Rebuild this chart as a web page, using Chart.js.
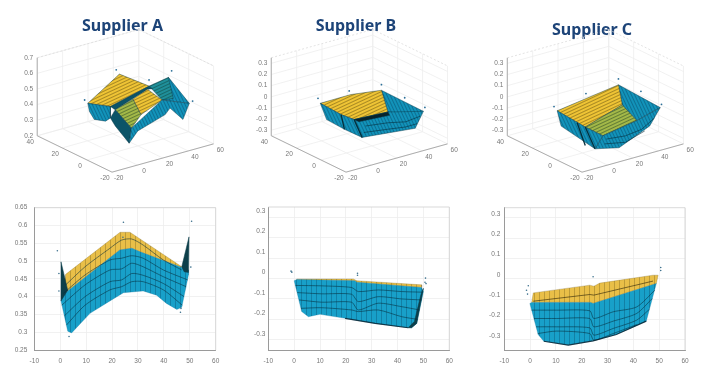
<!DOCTYPE html>
<html><head><meta charset="utf-8">
<style>
html,body{margin:0;padding:0;background:#fff;width:710px;height:377px;overflow:hidden}
canvas{position:absolute;filter:blur(0.6px)}
</style>
<script src="https://cdn.jsdelivr.net/npm/chart.js@4"></script>
</head><body>
<canvas id="a3" style="left:0;top:0" width="245" height="195"></canvas>
<canvas id="b3" style="left:236px;top:0" width="240" height="195"></canvas>
<canvas id="c3" style="left:474px;top:0" width="236" height="195"></canvas>
<canvas id="a2" style="left:0;top:195px" width="240" height="182"></canvas>
<canvas id="b2" style="left:236px;top:195px" width="240" height="182"></canvas>
<canvas id="c2" style="left:474px;top:195px" width="236" height="182"></canvas>
<script>
// ---------- tick values ----------
const xTicks3d=[-20,0,20,40,60];
const yTicks3d=[-20,0,20,40];
const zTicksA=[0.2,0.3,0.4,0.5,0.6,0.7];
const zTicksBC=[-0.3,-0.2,-0.1,0,0.1,0.2,0.3];
const xTicks2d=[-10,0,10,20,30,40,50,60];
const yTicksA=[0.25,0.3,0.35,0.4,0.45,0.5,0.55,0.6,0.65];
const yTicksBC=[-0.3,-0.2,-0.1,0,0.1,0.2,0.3];

// ---------- Supplier A, 3D surface facets ----------
const xA=[0.2,25.1,38.7,8.2,2.2,27.6,31.4,39,5.1,3.3,44.1,50.7,45.7,35.5,31.7,10.1,2.2,8.2,4.4,5.3,1.5,47.9,16.2,12.7];
const yA=[20,20,10,10,0,0,0,0,-10,-10,0,-10,-10,-10,-10,-10,0,10,10,20,20,0,0,-10];
const zA=[.44,.571,.502,.44,.472,.546,.541,.451,.386,.294,.585,.442,.35,.446,.413,.357,.368,.367,.355,.325,.385,.441,.509,.456];
const facesA=[[10,11,7],[2,10,21,7],[0,1,2,3],[3,2,6,5,4],[4,22,23,8],[22,5,7,23],[0,3,17,18,19,20],[4,8,9,16,17],[8,7,11,12,13,14,15,9]];
const shadesA=['B','T','Y','D','G','Y','B','D','B'];
const dotsAx=[-2.3,22.6,46.6,28.8,53.3], dotsAy=[20,20,0,0,-10], dotsAz=[.467,.604,.621,.603,.451];

// ---------- Supplier B, 3D surface facets ----------
const xB=[-1,23.1,47.2,50.8,32.7,6,10.4,2.5,44.4,4,8.2,5.6,41.9,34,9.8,5.1,22.8,36.8,48.2,3.8,22.8,36.8,45.7];
const yB=[20,20,20,-10,0,0,20,-10,-10,20,10,10,-10,0,0,-10,-10,-10,-10,-10,-10,-10,-10];
const zB=[-.01,-.008,-.046,-.083,-.086,-.069,-.134,-.164,-.215,-.172,-.218,-.078,-.079,-.12,-.101,-.07,-.097,-.133,-.119,-.124,-.155,-.179,-.178];
const facesB=[[2,3,12,4],[0,1,2,4,5,11],[5,4,3,8,7],[5,4,13,14],[0,11,5,7,10,9],[11,10],[5,7],[15,16,17,18],[19,20,21,22]];
const shadesB=['B','Y','B','S','B','K','K','L','L'];
const dotsBx=[-2.8,21.8,47.2,45.9,52], dotsBy=[20,20,20,0,-10], dotsBz=[.04,.029,.004,0,-.052];

// ---------- Supplier C, 3D surface facets ----------
const xC=[-.3,48,51.5,2.2,31.4,42.8,6.3,0,19,43.2,2.8,8.2,2.2,5.6,8.9,24.1,36.8,47,7.6,24.1,39.3];
const yC=[20,20,-10,0,0,0,-10,-10,-10,-10,20,10,0,10,-10,-10,-10,-10,-10,-10,-10];
const zC=[-.079,.001,-.051,-.124,-.018,-.195,-.161,-.258,-.309,-.19,-.226,-.305,-.29,-.151,-.199,-.218,-.2,-.13,-.238,-.276,-.222];
const facesC=[[1,2,5,4],[0,1,4,3],[3,4,5,6],[6,5,2,9,8,7],[0,3,6,7,11,10],[13,12],[3,7],[14,15,16,17],[18,19,20]];
const shadesC=['B','Y','G','B','B','K','K','L','L'];
const dotsCx=[-2.8,22.4,48,46.1,52.5], dotsCy=[20,20,20,0,-10], dotsCz=[-.033,.004,.054,.058,-.025];

// ---------- Supplier A, front view ----------
const yellowTopAx=[2.1,23.1,26.9,46.9], yellowTopAz=[.4626,.581,.581,.484];
const blueTopAx=[1.2,23,27.6,30.8,49.5], blueTopAz=[.406,.531,.536,.526,.475];
const blueBotAx=[.3,2.9,4.4,11.5,19.2,24.4,32,37.2,41,45,46.9,49.5], blueBotAz=[.388,.303,.298,.353,.388,.411,.416,.404,.381,.364,.37,.461];
const spikeLAx=[.3,2.9,.3], spikeLAz=[.498,.418,.388];
const spikeRAx=[49.7,46.9,47.8,49.5], spikeRAz=[.568,.484,.47,.468];
const contourAxs=[[2.1,9.6,19.2,23.7,27.6,32,39.8,46.9],[1.2,9.6,19.2,23.7,27.6,32,39.8,49.2],[.6,9.6,19.2,23.7,27.6,32,39.8,48.6],[1.6,9.6,19.2,23.7,27.6,32,39.8,47.8],[2.4,9.6,19.2,23.7,27.6,32,39.8,47.1]];
const contoursA=[[.433,.484,.536,.559,.562,.545,.503,.475],[.409,.461,.503,.508,.515,.508,.475,.447],[.376,.433,.475,.478,.494,.484,.456,.428],[.346,.4,.442,.447,.465,.46,.437,.4],[.32,.376,.419,.428,.442,.442,.419,.376]];
const dotsFAx=[-1.1,-.5,-.5,3.4,24.4,24.2,50.7,50.4,46.6,46.4], dotsFAz=[.529,.465,.416,.288,.609,.567,.612,.483,.367,.356];

// ---------- Supplier B, front view ----------
const yellowTopBx=[1,22.9,24.2,49.3], yellowTopBz=[-.002,-.002,-.011,-.031];
const blueTopBx=[1,23.5,24.2,49.3], blueTopBz=[-.005,-.011,-.018,-.044];
const blueBotBx=[0,2.9,5.5,10,19.7,31.3,44.1,45.4,47.4,50], blueBotBz=[-.011,-.162,-.187,-.175,-.195,-.22,-.241,-.241,-.22,-.064];
const edgeBx=[50,47.4,45.4,44.1,46.5,49], edgeBz=[-.048,-.22,-.241,-.241,-.21,-.08];
const bottomEdgeBx=[19.7,31.3,44.1], bottomEdgeBz=[-.195,-.22,-.241];
const contourBxs=[[.5,10.6,22.2,24.8,32.5,41.6,49.8],[1.2,10.6,22.2,24.8,32.5,41.6,49.3],[1.9,10.6,22.2,24.8,32.5,41.6,48.5],[2.7,10.6,22.2,24.8,32.5,41.6,47.7]];
const contoursB=[[-.034,-.036,-.044,-.064,-.056,-.064,-.067],[-.069,-.075,-.077,-.113,-.089,-.1,-.105],[-.105,-.116,-.116,-.154,-.121,-.138,-.154],[-.146,-.143,-.154,-.162,-.154,-.187,-.2]];
const dotsFBx=[-1.2,-.9,24.5,24.5,50.8,50.6,51], dotsFBz=[.036,.031,.026,.016,.002,-.018,-.025];

// ---------- Supplier C, front view ----------
const yellowTopCx=[1.2,23.1,24.7,27,47.6,49.6], yellowTopCz=[-.069,-.031,-.036,-.021,.018,.018];
const blueTopCx=[.6,23.4,24.4,48.9], blueTopCz=[-.116,-.116,-.121,-.023];
const blueBotCx=[-.1,3.1,5.3,14.8,24.4,33.4,45,48.9], blueBotCz=[-.121,-.274,-.307,-.326,-.305,-.274,-.208,-.023];
const bottomEdgeCx=[5.3,14.8,24.4,33.4,45], bottomEdgeCz=[-.307,-.326,-.305,-.274,-.208];
const contourCxs=[[.6,10.2,23.1,24.7,32.2,41.3,48.3],[1.5,10.2,23.1,24.7,32.2,41.3,47.3],[2.3,10.2,23.1,24.7,32.2,41.3,46.2],[3,10.2,23.1,24.7,32.2,41.3]];
const contoursC=[[-.154,-.154,-.157,-.195,-.162,-.138,-.056],[-.195,-.195,-.195,-.236,-.208,-.17,-.097],[-.236,-.236,-.241,-.277,-.244,-.203,-.15],[-.269,-.257,-.269,-.302,-.269,-.225]];
const contourYellowCx=[1.2,23.1,24.7,47.6], contourYellowCz=[-.11,-.077,-.08,-.011];
const dotsFCx=[-.7,-1.4,-1,24.4,50.6,50.6], dotsFCz=[-.034,-.056,-.075,.01,.056,.041];

// ---------- styling ----------
const fontFam='"Liberation Sans",Arial,sans-serif';
const tickCol='#777';
const gridCol='#eeeeee';
const axisCol='#9a9a9a';
function stripes(base,line,period,angle){
  const c=document.createElement('canvas');c.width=period;c.height=period;
  const g=c.getContext('2d');g.fillStyle=base;g.fillRect(0,0,period,period);
  g.fillStyle=line;g.fillRect(0,0,1,period);
  const p=g.createPattern(c,'repeat');
  p.setTransform(new DOMMatrix().rotate(angle));
  return p;
}
const fills={
  Y:stripes('#efc435','rgba(70,55,10,.42)',3,65),
  G:stripes('#a3b848','rgba(20,50,30,.45)',3,65),
  B:stripes('#1293ba','rgba(5,50,75,.35)',3,-25),
  T:stripes('#1f8f9a','rgba(10,50,40,.42)',3,65),
  D:'#0b5468',
  S:'#08232b'
};

function panel3d(id,cfg){
  const el=document.getElementById(id);
  const W=el.width,H=el.height;
  const titleBottom=cfg.titleTop+19.2;
  const P=(x,y,z)=>{
    const u=(x+20)/80,v=(y+20)/60,h=(z-cfg.zmin)/(cfg.zmax-cfg.zmin);
    return {x:(335+315*u-232*v)/3+cfg.dx,y:(527-87*u-112*v-240*h)/3};
  };
  const seg=(a,b,col,w,dash)=>({data:[a,b],showLine:true,pointRadius:0,borderColor:col,borderWidth:w||.8,borderDash:dash||[],fill:false,clip:false});
  const paint=[];
  const zl=cfg.zmin,zh=cfg.zmax;
  xTicks3d.forEach(x=>{paint.push(seg(P(x,-20,zl),P(x,40,zl),gridCol));paint.push(seg(P(x,40,zl),P(x,40,zh),gridCol));});
  yTicks3d.forEach(y=>{paint.push(seg(P(-20,y,zl),P(60,y,zl),gridCol));paint.push(seg(P(60,y,zl),P(60,y,zh),gridCol));});
  cfg.zTicks.forEach(z=>{paint.push(seg(P(-20,40,z),P(60,40,z),gridCol));paint.push(seg(P(60,40,z),P(60,-20,z),gridCol));});
  paint.push(seg(P(-20,40,zh),P(60,40,zh),'#dcdcdc',.8,[2,2]));
  paint.push(seg(P(60,40,zh),P(60,-20,zh),'#dcdcdc',.8,[2,2]));
  paint.push(seg(P(-20,40,zl),P(-20,40,zh),axisCol));
  paint.push(seg(P(-20,-20,zl),P(60,-20,zl),axisCol));
  paint.push(seg(P(-20,-20,zl),P(-20,40,zl),axisCol));
  cfg.faces.forEach((f,k)=>{
    const s=cfg.shades[k];
    const pts=f.map(i=>P(cfg.x[i],cfg.y[i],cfg.z[i]));
    if(s==='K'||s==='L'){paint.push({data:pts,showLine:true,pointRadius:0,borderColor:s==='K'?'#06303c':'rgba(5,45,60,.75)',borderWidth:s==='K'?1.3:.8,fill:false,clip:false});return;}
    pts.push(pts[0]);
    paint.push({data:pts,showLine:true,pointRadius:0,borderColor:'rgba(8,50,65,.7)',borderWidth:.6,backgroundColor:fills[s],fill:'shape',clip:false});
  });
  paint.push({data:cfg.dx3.map((x,i)=>P(x,cfg.dy3[i],cfg.dz3[i])),showLine:false,pointRadius:.9,pointBorderWidth:0,pointBackgroundColor:'#2b6f98',clip:false});
  const labels={id:'axisText',afterDraw(ch){
    const c=ch.ctx,sx=ch.scales.x,sy=ch.scales.y;
    c.save();c.font='6.5px '+fontFam;c.fillStyle=tickCol;c.textBaseline='middle';c.textAlign='center';
    xTicks3d.forEach(x=>{const p=P(x,-20,zl);c.fillText(String(x),sx.getPixelForValue(p.x)+6.7,sy.getPixelForValue(p.y)+6);});
    yTicks3d.forEach(y=>{const p=P(-20,y,zl);c.fillText(String(y),sx.getPixelForValue(p.x)-7,sy.getPixelForValue(p.y)+6);});
    c.textAlign='right';
    cfg.zTicks.forEach(z=>{const p=P(-20,40,z);c.fillText(String(z),sx.getPixelForValue(p.x)-4,sy.getPixelForValue(p.y));});
    c.restore();
  }};
  new Chart(el,{type:'scatter',data:{datasets:paint.reverse()},plugins:[labels],options:{
    responsive:false,animation:false,events:[],layout:{padding:0},
    plugins:{legend:{display:false},tooltip:{enabled:false},
      title:{display:true,text:cfg.title,color:'#1d4478',font:{family:'"Noto Sans",sans-serif',weight:'bold',size:16,lineHeight:1.2},padding:{top:cfg.titleTop,bottom:0}}},
    scales:{x:{type:'linear',display:false,min:0,max:W},y:{type:'linear',display:false,min:titleBottom,max:H,reverse:true}}
  }});
}

function poly(px,pz,fill,line,w){
  return {data:px.map((x,i)=>({x,y:pz[i]})),showLine:true,pointRadius:0,borderColor:line,borderWidth:w===undefined?.5:w,backgroundColor:fill,fill:'shape'};
}
function closed(xa,za,xb,zb){ // upper edge left to right, lower edge right to left
  return {x:[...xa,...xb.slice().reverse(),xa[0]],z:[...za,...zb.slice().reverse(),za[0]]};
}
function panel2d(id,cfg){
  const el=document.getElementById(id);
  const paint=[];
  const yel=closed(cfg.yTopX,cfg.yTopZ,cfg.bTopX,cfg.bTopZ);
  const blu=closed(cfg.bTopX,cfg.bTopZ,cfg.bBotX,cfg.bBotZ);
  paint.push(poly(yel.x,yel.z,stripes('#e9bf48','rgba(80,60,10,.28)',5,0),'rgba(110,90,30,.5)'));
  paint.push(poly(blu.x,blu.z,stripes('#18a0c9','rgba(8,70,100,.35)',5,0),'rgba(20,120,160,.6)'));
  (cfg.darks||[]).forEach(d=>{paint.push(poly([...d[0],d[0][0]],[...d[1],d[1][0]],'#0d3f4a','#0d3f4a'));});
  cfg.cxs.forEach((xs,k)=>paint.push({data:xs.map((x,i)=>({x,y:cfg.contours[k][i]})),showLine:true,tension:.25,pointRadius:0,borderColor:'rgba(6,45,60,.62)',borderWidth:.9,fill:false}));
  (cfg.extra||[]).forEach(e=>paint.push({data:e[0].map((x,i)=>({x,y:e[1][i]})),showLine:true,pointRadius:0,borderColor:'rgba(50,40,10,.7)',borderWidth:.9,fill:false}));
  (cfg.bottomEdge||[]).forEach(e=>paint.push({data:e[0].map((x,i)=>({x,y:e[1][i]})),showLine:true,pointRadius:0,borderColor:'rgba(5,35,50,.85)',borderWidth:1.2,fill:false}));
  paint.push({data:cfg.dotX.map((x,i)=>({x,y:cfg.dotZ[i]})),showLine:false,pointRadius:.8,pointBorderWidth:0,pointBackgroundColor:'#3a6f8c'});
  const frame={id:'frame',afterDraw(ch){const a=ch.chartArea,c=ch.ctx;c.save();c.strokeStyle='#cfcfcf';c.lineWidth=.8;c.beginPath();c.moveTo(a.left,a.top);c.lineTo(a.right,a.top);c.lineTo(a.right,a.bottom);c.stroke();c.restore();}};
  new Chart(el,{type:'scatter',data:{datasets:paint.reverse()},plugins:[frame],options:{
    responsive:false,animation:false,events:[],
    layout:{padding:{top:cfg.padTop,right:cfg.padRight}},
    plugins:{legend:{display:false},tooltip:{enabled:false},title:{display:false}},
    scales:{
      x:{type:'linear',min:-10,max:60,afterFit:s=>{s.height=27},afterBuildTicks:s=>{s.ticks=xTicks2d.map(v=>({value:v}))},
        grid:{color:gridCol,lineWidth:.8,tickLength:0},border:{color:axisCol},
        ticks:{color:tickCol,font:{family:fontFam,size:6.5},padding:7,maxRotation:0,autoSkip:false,callback:v=>String(v)}},
      y:{type:'linear',min:cfg.ymin,max:cfg.ymax,afterFit:s=>{s.width=cfg.axisW},afterBuildTicks:s=>{s.ticks=cfg.yTicks.map(v=>({value:v}))},
        grid:{color:gridCol,lineWidth:.8,tickLength:0},border:{color:axisCol},
        ticks:{color:tickCol,font:{family:fontFam,size:6.5},padding:cfg.tickPad,labelOffset:cfg.labelOff,autoSkip:false,callback:v=>String(v)}}
    }
  }});
}

panel3d('a3',{title:'Supplier A',titleTop:17,dx:0,zmin:.2,zmax:.7,zTicks:zTicksA,x:xA,y:yA,z:zA,faces:facesA,shades:shadesA,dx3:dotsAx,dy3:dotsAy,dz3:dotsAz});
panel3d('b3',{title:'Supplier B',titleTop:17,dx:-2,zmin:-.35,zmax:.35,zTicks:zTicksBC,x:xB,y:yB,z:zB,faces:facesB,shades:shadesB,dx3:dotsBx,dy3:dotsBy,dz3:dotsBz});
panel3d('c3',{title:'Supplier C',titleTop:21,dx:-4,zmin:-.35,zmax:.35,zTicks:zTicksBC,x:xC,y:yC,z:zC,faces:facesC,shades:shadesC,dx3:dotsCx,dy3:dotsCy,dz3:dotsCz});

panel2d('a2',{axisW:34.3,padTop:12.7,padRight:24.3,ymin:.25,ymax:.65,yTicks:yTicksA,tickPad:7,labelOff:0,
  yTopX:yellowTopAx,yTopZ:yellowTopAz,bTopX:blueTopAx,bTopZ:blueTopAz,bBotX:blueBotAx,bBotZ:blueBotAz,
  darks:[[spikeLAx,spikeLAz],[spikeRAx,spikeRAz]],cxs:contourAxs,contours:contoursA,dotX:dotsFAx,dotZ:dotsFAz});
panel2d('b2',{axisW:32.3,padTop:12,padRight:26.7,ymin:-.35,ymax:.35,yTicks:yTicksBC,tickPad:3,labelOff:-6,
  yTopX:yellowTopBx,yTopZ:yellowTopBz,bTopX:blueTopBx,bTopZ:blueTopBz,bBotX:blueBotBx,bBotZ:blueBotBz,
  darks:[[edgeBx,edgeBz]],bottomEdge:[[bottomEdgeBx,bottomEdgeBz]],cxs:contourBxs,contours:contoursB,dotX:dotsFBx,dotZ:dotsFBz});
panel2d('c2',{axisW:30.3,padTop:12.7,padRight:25,ymin:-.35,ymax:.35,yTicks:yTicksBC,tickPad:4,labelOff:-4,
  yTopX:yellowTopCx,yTopZ:yellowTopCz,bTopX:blueTopCx,bTopZ:blueTopCz,bBotX:blueBotCx,bBotZ:blueBotCz,
  bottomEdge:[[bottomEdgeCx,bottomEdgeCz]],cxs:contourCxs,contours:contoursC,extra:[[contourYellowCx,contourYellowCz]],dotX:dotsFCx,dotZ:dotsFCz});
</script>
</body></html>
